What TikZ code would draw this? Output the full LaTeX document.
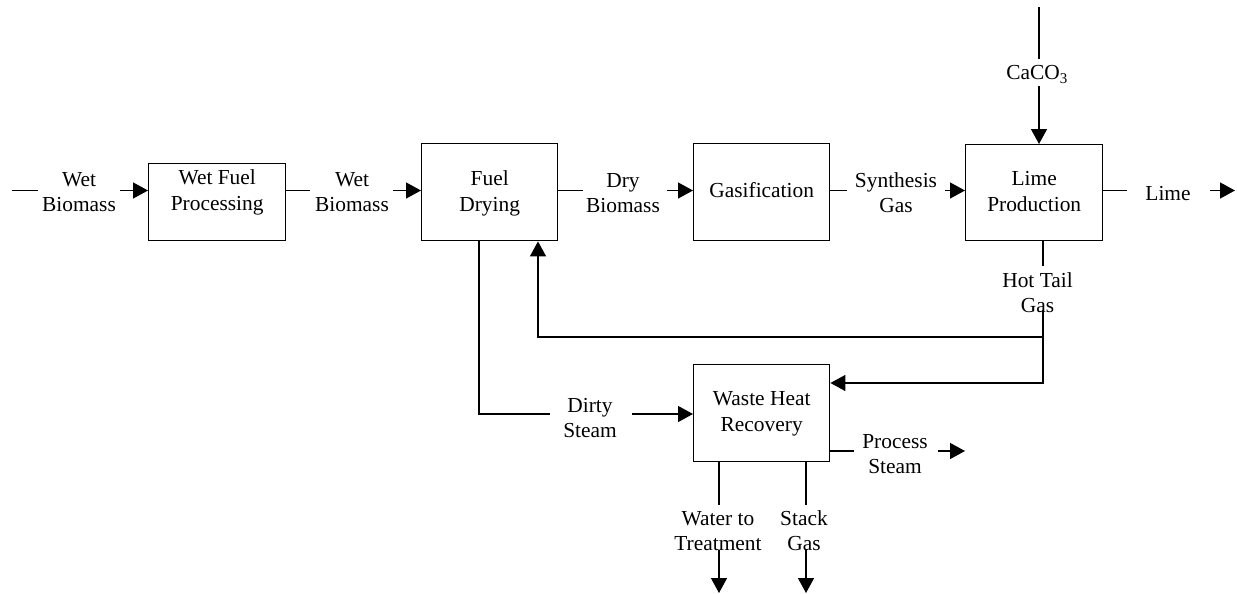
\documentclass[tikz,border=0pt]{standalone}
\usepackage{fontspec}
\setmainfont{Liberation Serif}
\usetikzlibrary{arrows.meta}
\begin{document}
\begin{tikzpicture}[x=1pt,y=-1pt,
  line/.style={line width=1.4pt},
  arr/.style={line width=1.4pt,-{Triangle[length=15pt,width=16pt]}},
  box/.style={draw,line width=1.4pt,inner sep=0pt,align=flush center,anchor=north west,
    font=\fontsize{21.4}{25.5}\selectfont},
  lbl/.style={inner sep=0pt,text width=130pt,align=flush center,anchor=base,
    font=\fontsize{21.4}{25.5}\selectfont}]
\useasboundingbox (0,0) rectangle (1237,594);

% process units
\node[box,text width=137pt,text height=21pt,text depth=56pt] (wfp) at (148,163) {Wet Fuel\\Processing};
\node[box,text width=136pt,text height=42pt,text depth=55pt] (fd) at (421,143) {Fuel\\Drying};
\node[box,text width=136pt,text height=54pt,text depth=43pt] (gas) at (693,143) {Gasification};
\node[box,text width=137pt,text height=41pt,text depth=55pt] (lime) at (965,144) {Lime\\Production};
\node[box,text width=136pt,text height=41pt,text depth=56pt] (whr) at (693,364) {Waste Heat\\Recovery};

% stream labels
\node[lbl] (l1) at (79,186) {Wet\\Biomass};
\node[lbl] (l2) at (352,186) {Wet\\Biomass};
\node[lbl] (l3) at (623,187) {Dry\\Biomass};
\node[lbl] (l4) at (896,187) {Synthesis\\Gas};
\node[lbl] (l5) at (1168,200) {Lime};
\node[lbl] (l6) at (1037,80) {CaCO\textsubscript{3}};
\node[lbl] (l7) at (1037.5,287) {Hot Tail\\Gas};
\node[lbl] (l8) at (590,412) {Dirty\\Steam};
\node[lbl] (l9) at (895,448) {Process\\Steam};
\node[lbl] (l10) at (718,525) {Water to\\Treatment};
\node[lbl] (l11) at (804,525) {Stack\\Gas};

% break points of the streams
\coordinate (a0) at (12,190.5);  \coordinate (a1) at (38,190.5);  \coordinate (a2) at (120,190.5);
\coordinate (b1) at (310,190.5); \coordinate (b2) at (393,190.5);
\coordinate (c1) at (583,190.5); \coordinate (c2) at (667,190.5);
\coordinate (d1) at (847,190.5); \coordinate (d2) at (945,190.5);
\coordinate (e1) at (1127,190.5); \coordinate (e2) at (1210,190.5); \coordinate (e3) at (1235,190.5);
\coordinate (f0) at (1039,7);  \coordinate (f1) at (1039,59); \coordinate (f2) at (1039,86);
\coordinate (g1) at (1043,266); \coordinate (g2) at (1043,310);
\coordinate (g3) at (1043,337); \coordinate (g4) at (1043,383);
\coordinate (h0) at (538,337);
\coordinate (k0) at (479,240); \coordinate (k1) at (479,414); \coordinate (k2) at (550,414); \coordinate (k3) at (632,414);
\coordinate (p1) at (854,451); \coordinate (p2) at (938,451); \coordinate (p3) at (965,451);
\coordinate (w1) at (719,505); \coordinate (w2) at (719,550); \coordinate (w3) at (719,593);
\coordinate (s1) at (806,505); \coordinate (s2) at (806,550); \coordinate (s3) at (806,593);

% main line
\draw[line] (a0) -- (a1);
\draw[arr] (a2) -- (wfp.west |- a2);
\draw[line] (wfp.east |- b1) -- (b1);
\draw[arr] (b2) -- (fd.west |- b2);
\draw[line] (fd.east |- c1) -- (c1);
\draw[arr] (c2) -- (gas.west |- c2);
\draw[line] (gas.east |- d1) -- (d1);
\draw[arr] (d2) -- (lime.west |- d2);
\draw[line] (lime.east |- e1) -- (e1);
\draw[arr] (e2) -- (e3);

% limestone feed
\draw[line] (f0) -- (f1);
\draw[arr] (f2) -- (lime.north -| f2);

% hot tail gas
\draw[line] (lime.south -| g1) -- (g1);
\draw[arr] (g2) -- (g4) -- (whr.east |- g4);
\draw[arr] (g3) -- (h0) -- (fd.south -| h0);

% dirty steam
\draw[line] (fd.south -| k0) -- (k1) -- (k2);
\draw[arr] (k3) -- (whr.west |- k3);

% process steam
\draw[line] (whr.east |- p1) -- (p1);
\draw[arr] (p2) -- (p3);

% water and stack gas
\draw[line] (whr.south -| w1) -- (w1);
\draw[arr] (w2) -- (w3);
\draw[line] (whr.south -| s1) -- (s1);
\draw[arr] (s2) -- (s3);
\end{tikzpicture}
\end{document}
